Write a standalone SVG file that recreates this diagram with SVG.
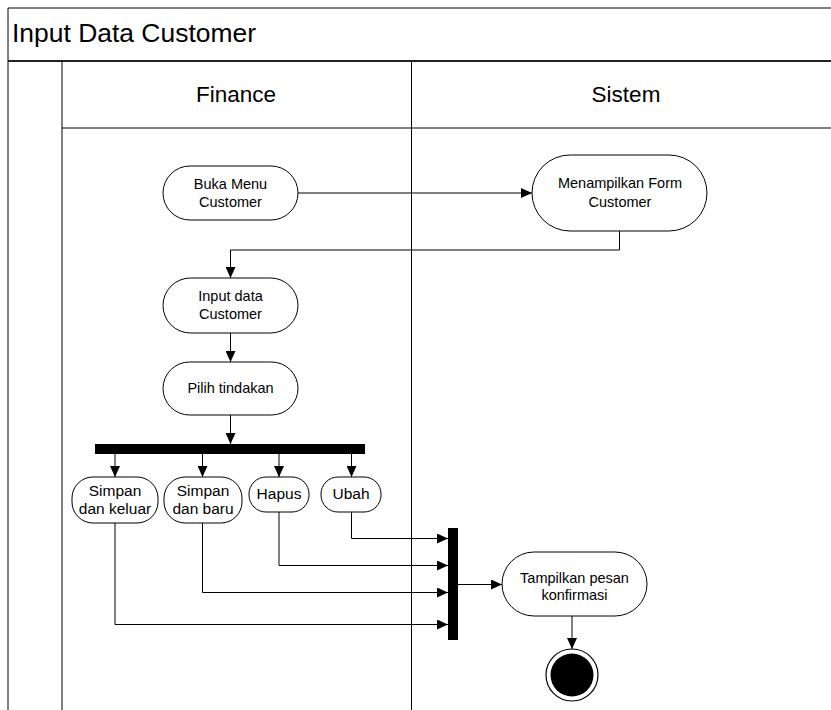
<svg xmlns="http://www.w3.org/2000/svg" width="831" height="710" viewBox="0 0 831 710">
<style>
.frame{fill:none;stroke:#000;stroke-width:1}
.node{fill:#fff;stroke:#000;stroke-width:1}
.bar{fill:#000;stroke:none}
.t{font-family:"Liberation Sans",Arial,sans-serif;font-size:14.5px;fill:#000;text-anchor:middle}
.s{font-family:"Liberation Sans",Arial,sans-serif;font-size:15.5px;fill:#000;text-anchor:middle}
.h{font-family:"Liberation Sans",Arial,sans-serif;font-size:22.5px;fill:#000;text-anchor:middle}
.c{fill:none;stroke:#000;stroke-width:1}
</style>
<defs>
<marker id="arr" markerUnits="userSpaceOnUse" markerWidth="11" markerHeight="10" viewBox="0 0 11 10" refX="11" refY="5" orient="auto">
<path d="M0,0 L11,5 L0,10 Z" fill="#000"/>
</marker>
</defs>
<rect x="0" y="0" width="831" height="710" fill="#fff"/>
<g id="frame">
<line class="frame" x1="8" y1="8" x2="831" y2="8"/>
<line class="frame" x1="8" y1="8" x2="8" y2="710"/>
<line x1="8" y1="61" x2="831" y2="61" stroke="#222" stroke-width="2"/>
<line class="frame" x1="62" y1="61" x2="62" y2="710"/>
<line class="frame" x1="411.5" y1="61" x2="411.5" y2="710"/>
<line class="frame" x1="62" y1="128" x2="831" y2="128"/>
<text x="12" y="42" font-family="'Liberation Sans',Arial,sans-serif" font-size="25" textLength="244" lengthAdjust="spacingAndGlyphs">Input Data Customer</text>
<text class="h" x="236" y="102">Finance</text>
<text class="h" x="626" y="102">Sistem</text>
</g>
<g id="connectors">
<path class="c" d="M298,193 H532" marker-end="url(#arr)"/>
<path class="c" d="M619.5,231 V250 H230.5 V278" marker-end="url(#arr)"/>
<path class="c" d="M230.5,333 V362" marker-end="url(#arr)"/>
<path class="c" d="M230.5,415 V444" marker-end="url(#arr)"/>
<path class="c" d="M115,454 V477" marker-end="url(#arr)"/>
<path class="c" d="M202.5,454 V477" marker-end="url(#arr)"/>
<path class="c" d="M279,454 V477" marker-end="url(#arr)"/>
<path class="c" d="M351.5,454 V477" marker-end="url(#arr)"/>
<path class="c" d="M351.5,512 V538.5 H448" marker-end="url(#arr)"/>
<path class="c" d="M279,512 V565.5 H448" marker-end="url(#arr)"/>
<path class="c" d="M202.5,523 V592.5 H448" marker-end="url(#arr)"/>
<path class="c" d="M115,523 V624.5 H448" marker-end="url(#arr)"/>
<path class="c" d="M458,584.5 H502" marker-end="url(#arr)"/>
<path class="c" d="M572,616 V649" marker-end="url(#arr)"/>
</g>
<g id="buka-menu">
<rect class="node" x="163" y="166" width="135" height="54" rx="27"/>
<text class="t" x="230.5" y="189">Buka Menu</text>
<text class="t" x="230.5" y="207">Customer</text>
</g>
<g id="menampilkan-form">
<rect class="node" x="532" y="155" width="175" height="76" rx="38"/>
<text class="t" x="620" y="188">Menampilkan Form</text>
<text class="t" x="620" y="207">Customer</text>
</g>
<g id="input-data">
<rect class="node" x="163" y="278" width="135" height="55" rx="27.5"/>
<text class="t" x="230.5" y="301">Input data</text>
<text class="t" x="230.5" y="319">Customer</text>
</g>
<g id="pilih-tindakan">
<rect class="node" x="163" y="362" width="135" height="53" rx="26.5"/>
<text class="t" x="230.5" y="393">Pilih tindakan</text>
</g>
<g id="fork">
<rect class="bar" x="95" y="444" width="270" height="10"/>
</g>
<g id="simpan-keluar">
<rect class="node" x="72" y="477" width="86" height="46" rx="21"/>
<text class="s" x="115" y="496">Simpan</text>
<text class="s" x="115" y="514">dan keluar</text>
</g>
<g id="simpan-baru">
<rect class="node" x="164" y="477" width="78" height="46" rx="21"/>
<text class="s" x="203" y="496">Simpan</text>
<text class="s" x="203" y="514">dan baru</text>
</g>
<g id="hapus">
<rect class="node" x="249" y="477" width="60" height="35" rx="17"/>
<text class="s" x="279" y="499">Hapus</text>
</g>
<g id="ubah">
<rect class="node" x="321" y="477" width="60" height="35" rx="17"/>
<text class="s" x="351" y="499">Ubah</text>
</g>
<g id="join">
<rect class="bar" x="448" y="528" width="10" height="112"/>
</g>
<g id="tampilkan-pesan">
<rect class="node" x="502" y="552" width="145" height="64" rx="32"/>
<text class="t" x="574.5" y="583">Tampilkan pesan</text>
<text class="t" x="574.5" y="600">konfirmasi</text>
</g>
<g id="final">
<circle cx="572" cy="675" r="26" fill="#fff" stroke="#000" stroke-width="1.2"/>
<circle cx="572" cy="675" r="21.5" fill="#000"/>
</g>
</svg>
